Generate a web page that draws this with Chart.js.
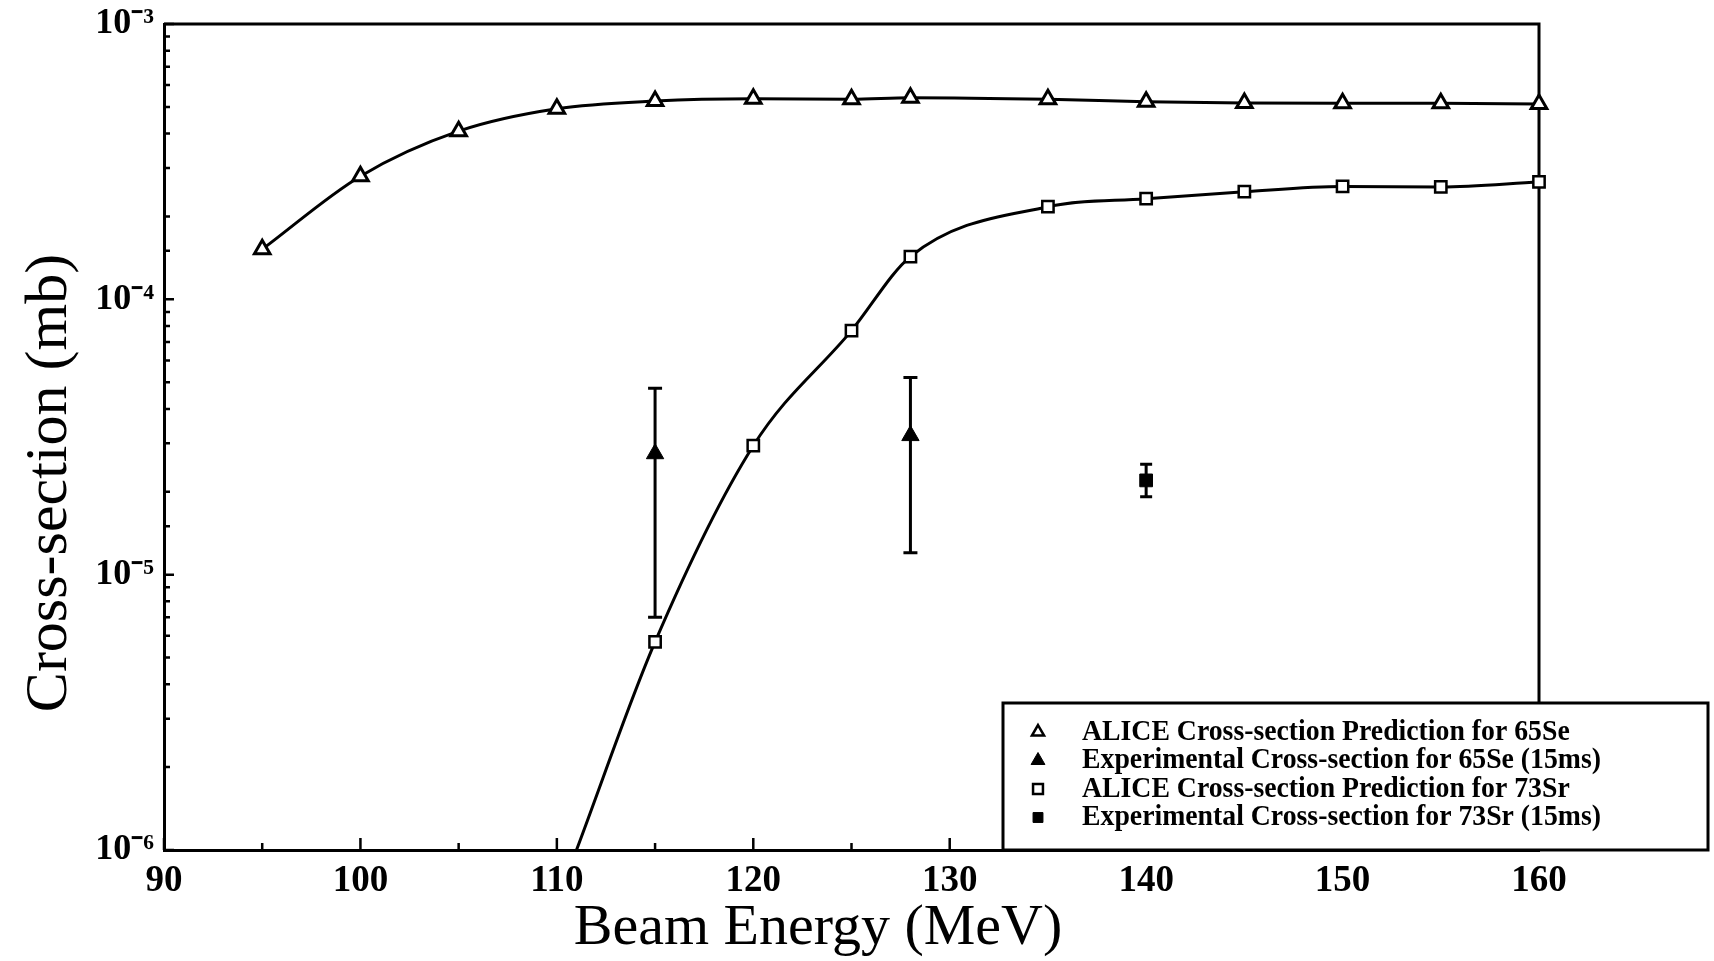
<!DOCTYPE html>
<html>
<head>
<meta charset="utf-8">
<script src="https://cdn.jsdelivr.net/npm/chart.js@4.4.0/dist/chart.umd.min.js"></script>
<style>
  html, body { margin: 0; padding: 0; background: #fff; }
  #wrap { width: 1714px; height: 961px; position: relative; }
</style>
</head>
<body>
<div id="wrap"><canvas id="c"></canvas></div>
<script>
// ── data ───────────────────────────────────────────────
const seEnergy = [95, 100, 105, 110, 115, 120, 125, 128, 135, 140, 145, 150, 155, 160];
const seAlice  = [1.52e-4, 2.8e-4, 4.08e-4, 4.92e-4, 5.25e-4, 5.35e-4, 5.33e-4, 5.4e-4, 5.33e-4, 5.22e-4, 5.16e-4, 5.15e-4, 5.15e-4, 5.12e-4];

// first point is where the fitted curve leaves the bottom axis (no marker)
const srEnergy = [111, 115, 120, 125, 128, 135, 140, 145, 150, 155, 160];
const srAlice  = [1.0e-6, 5.7e-6, 2.94e-5, 7.7e-5, 1.43e-4, 2.17e-4, 2.32e-4, 2.46e-4, 2.57e-4, 2.56e-4, 2.67e-4];

const seExpEnergy = [115, 128];
const seExp       = [2.75e-5, 3.2e-5];
const seExpLow    = [7.0e-6, 1.2e-5];
const seExpHigh   = [4.75e-5, 5.2e-5];

const srExpEnergy = [140];
const srExp       = [2.2e-5];
const srExpLow    = [1.92e-5];
const srExpHigh   = [2.52e-5];

const legendLabels = [
  'ALICE Cross-section Prediction for 65Se',
  'Experimental Cross-section for 65Se (15ms)',
  'ALICE Cross-section Prediction for 73Sr',
  'Experimental Cross-section for 73Sr (15ms)',
];

const SERIF = '"Liberation Serif", "Times New Roman", serif';
const SUP = { '-': '⁻', '0': '⁰', '1': '¹', '2': '²', '3': '³', '4': '⁴', '5': '⁵', '6': '⁶', '7': '⁷', '8': '⁸', '9': '⁹' };

const isDecade = v => { const e = Math.log10(v); return Math.abs(e - Math.round(e)) < 1e-6; };

// ── plugins ────────────────────────────────────────────
const frame = {
  id: 'frame',
  beforeDatasetsDraw(chart) {
    const { ctx, chartArea: a, scales: { x, y } } = chart;
    ctx.save();
    ctx.strokeStyle = '#000';
    ctx.lineWidth = 3;
    ctx.beginPath();
    ctx.moveTo(a.left, a.top); ctx.lineTo(a.right, a.top); ctx.lineTo(a.right, a.bottom);
    ctx.stroke();
    // inward tick marks
    ctx.lineWidth = 2.5;
    ctx.beginPath();
    y.ticks.forEach(t => {
      const p = y.getPixelForValue(t.value);
      const len = isDecade(t.value) ? 10 : 6;
      ctx.moveTo(a.left, p); ctx.lineTo(a.left + len, p);
    });
    x.ticks.forEach(t => {
      const p = x.getPixelForValue(t.value);
      const len = t.value % 10 === 0 ? 12 : 7;
      ctx.moveTo(p, a.bottom); ctx.lineTo(p, a.bottom - len);
    });
    ctx.stroke();
    ctx.restore();
  },
};

const errorBars = {
  id: 'errorBars',
  afterDatasetsDraw(chart) {
    const { ctx, scales: { x, y } } = chart;
    const sets = [
      { xs: seExpEnergy, lo: seExpLow, hi: seExpHigh, cap: 7 },
      { xs: srExpEnergy, lo: srExpLow, hi: srExpHigh, cap: 6 },
    ];
    ctx.save();
    ctx.strokeStyle = '#000';
    ctx.lineWidth = 3;
    sets.forEach(s => s.xs.forEach((e, i) => {
      const px = x.getPixelForValue(e);
      const top = y.getPixelForValue(s.hi[i]);
      const bot = y.getPixelForValue(s.lo[i]);
      ctx.beginPath();
      ctx.moveTo(px, top); ctx.lineTo(px, bot);
      ctx.moveTo(px - s.cap, top); ctx.lineTo(px + s.cap, top);
      ctx.moveTo(px - s.cap, bot); ctx.lineTo(px + s.cap, bot);
      ctx.stroke();
    }));
    ctx.restore();
  },
};

const legendBox = {
  id: 'legendBox',
  afterDraw(chart) {
    const { ctx, chartArea: a } = chart;
    const box = { left: 1003, top: 703, right: 1708, bottom: a.bottom };
    ctx.save();
    ctx.fillStyle = '#fff';
    ctx.fillRect(box.left, box.top, box.right - box.left, box.bottom - box.top);
    ctx.strokeStyle = '#000';
    ctx.lineWidth = 3;
    ctx.strokeRect(box.left, box.top, box.right - box.left, box.bottom - box.top);
    const styles = [
      { pointStyle: 'triangle', radius: 7, borderWidth: 2.5, fill: '#fff' },
      { pointStyle: 'triangle', radius: 8, borderWidth: 1, fill: '#000' },
      { pointStyle: 'rect', radius: 7, borderWidth: 2.5, fill: '#fff' },
      { pointStyle: 'rect', radius: 7, borderWidth: 1, fill: '#000' },
    ];
    ctx.font = 'bold 30px ' + SERIF;
    ctx.textBaseline = 'middle';
    // the original face is narrow; squeeze to the width it takes there
    const squeeze = 519 / ctx.measureText(legendLabels[1]).width;
    legendLabels.forEach((txt, i) => {
      const ly = 732 + i * 28.5;
      ctx.fillStyle = styles[i].fill;
      ctx.strokeStyle = '#000';
      ctx.lineWidth = styles[i].borderWidth;
      Chart.helpers.drawPoint(ctx, {
        pointStyle: styles[i].pointStyle, radius: styles[i].radius,
        rotation: 0, borderWidth: styles[i].borderWidth,
      }, 1038, ly);
      ctx.fillStyle = '#000';
      ctx.save();
      ctx.translate(1082, ly);
      ctx.scale(squeeze, 1);
      ctx.fillText(txt, 0, 0);
      ctx.restore();
    });
    ctx.restore();
  },
};

const axisTitles = {
  id: 'axisTitles',
  afterDraw(chart) {
    const { ctx } = chart;
    ctx.save();
    ctx.fillStyle = '#000';
    ctx.textAlign = 'center';
    ctx.textBaseline = 'middle';
    ctx.font = '58px ' + SERIF;
    ctx.fillText('Beam Energy (MeV)', 818, 929);
    ctx.translate(50, 483);
    ctx.rotate(-Math.PI / 2);
    ctx.font = '60px ' + SERIF;
    ctx.fillText('Cross-section (mb)', 0, 0);
    ctx.restore();
  },
};

// ── chart ──────────────────────────────────────────────
const lineCommon = {
  borderColor: '#000',
  borderWidth: 3,
  pointBorderColor: '#000',
  pointBackgroundColor: '#fff',
  cubicInterpolationMode: 'monotone',
  clip: false,
};

new Chart(document.getElementById('c'), {
  type: 'line',
  data: {
    datasets: [
      {
        ...lineCommon,
        label: legendLabels[0],
        data: seEnergy.map((e, i) => ({ x: e, y: seAlice[i] })),
        pointStyle: 'triangle',
        pointRadius: 9,
        pointBorderWidth: 3,
      },
      {
        label: legendLabels[1],
        data: seExpEnergy.map((e, i) => ({ x: e, y: seExp[i] })),
        showLine: false,
        pointStyle: 'triangle',
        pointRadius: 10,
        pointBackgroundColor: '#000',
        pointBorderColor: '#000',
        clip: false,
      },
      {
        ...lineCommon,
        label: legendLabels[2],
        data: srEnergy.map((e, i) => ({ x: e, y: srAlice[i] })),
        pointStyle: 'rect',
        pointRadius: c => (c.raw && c.raw.y <= 1.0e-6 ? 0 : 8),
        pointBorderWidth: 2.5,
      },
      {
        label: legendLabels[3],
        data: srExpEnergy.map((e, i) => ({ x: e, y: srExp[i] })),
        showLine: false,
        pointStyle: 'rect',
        pointRadius: 9,
        pointBackgroundColor: '#000',
        pointBorderColor: '#000',
        clip: false,
      },
    ],
  },
  options: {
    responsive: true,
    maintainAspectRatio: false,
    animation: false,
    layout: { padding: { top: 24, right: 175, left: 0, bottom: 0 } },
    plugins: { legend: { display: false }, tooltip: { enabled: false } },
    scales: {
      x: {
        type: 'linear',
        min: 90,
        max: 160,
        ticks: {
          stepSize: 5,
          autoSkip: false,
          maxRotation: 0,
          padding: 9,
          color: '#000',
          font: { family: SERIF, size: 37, weight: 'bold' },
          callback: v => (v % 10 === 0 ? String(v) : ''),
        },
        grid: { display: true, drawOnChartArea: false, drawTicks: false, color: 'rgba(0,0,0,0)' },
        border: { display: true, color: '#000', width: 3 },
        afterFit: s => { s.height = 111; s.paddingLeft = 0; s.paddingRight = 0; },
      },
      y: {
        type: 'logarithmic',
        min: 1e-6,
        max: 1e-3,
        ticks: {
          autoSkip: false,
          padding: 10,
          color: '#000',
          font: { family: SERIF, size: 36, weight: 'bold' },
          callback: v => {
            if (!isDecade(v)) return '';
            const e = String(Math.round(Math.log10(v)));
            return '10' + e.split('').map(ch => SUP[ch]).join('');
          },
        },
        grid: { display: true, drawOnChartArea: false, drawTicks: false, color: 'rgba(0,0,0,0)' },
        border: { display: true, color: '#000', width: 3 },
        afterFit: s => { s.width = 164; s.paddingTop = 0; s.paddingBottom = 0; },
      },
    },
  },
  plugins: [frame, errorBars, legendBox, axisTitles],
});
</script>
</body>
</html>
